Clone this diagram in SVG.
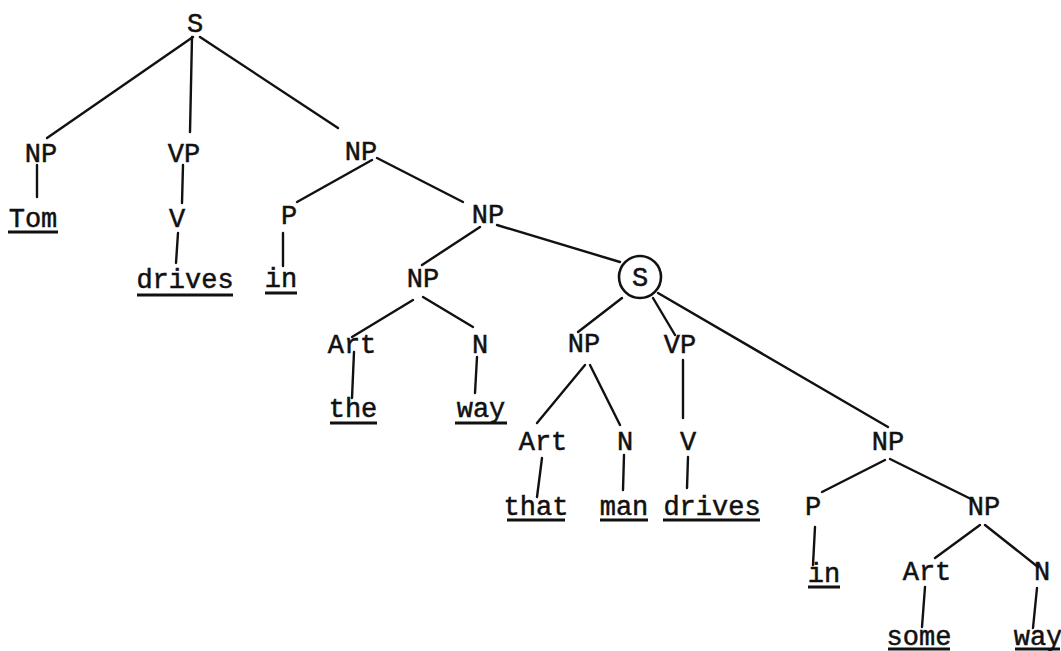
<svg xmlns="http://www.w3.org/2000/svg" width="1061" height="651" viewBox="0 0 1061 651">
<style>
text{font-family:"Liberation Mono","DejaVu Sans Mono",monospace;font-size:27px;fill:#111;stroke:#111;stroke-width:0.5;text-anchor:middle}
.e line{stroke:#111;stroke-width:2.4;stroke-linecap:round}
.u{stroke:#111;stroke-width:3}
</style>
<rect width="1061" height="651" fill="#fff"/>
<g class="e" id="connectors">
<line x1="193" y1="37" x2="47" y2="138"/>
<line x1="192" y1="37" x2="190" y2="132"/>
<line x1="200" y1="37" x2="338" y2="128"/>
<line x1="37" y1="165" x2="37" y2="197"/>
<line x1="183" y1="165" x2="182" y2="203"/>
<line x1="178" y1="233" x2="176" y2="263"/>
<line x1="372" y1="160" x2="297" y2="202"/>
<line x1="377" y1="158" x2="463" y2="202"/>
<line x1="283" y1="233" x2="283" y2="266"/>
<line x1="480" y1="227" x2="422" y2="265"/>
<line x1="497" y1="225" x2="620" y2="262"/>
<line x1="413" y1="300" x2="352" y2="337"/>
<line x1="423" y1="297" x2="473" y2="327"/>
<line x1="354" y1="352" x2="352" y2="398"/>
<line x1="477" y1="357" x2="475" y2="393"/>
<line x1="622" y1="298" x2="578" y2="332"/>
<line x1="653" y1="298" x2="675" y2="335"/>
<line x1="658" y1="293" x2="888" y2="427"/>
<line x1="585" y1="365" x2="537" y2="423"/>
<line x1="590" y1="365" x2="620" y2="425"/>
<line x1="683" y1="360" x2="683" y2="418"/>
<line x1="542" y1="458" x2="537" y2="497"/>
<line x1="624" y1="455" x2="623" y2="490"/>
<line x1="688" y1="457" x2="687" y2="488"/>
<line x1="885" y1="460" x2="822" y2="492"/>
<line x1="890" y1="459" x2="973" y2="500"/>
<line x1="815" y1="527" x2="813" y2="565"/>
<line x1="980" y1="525" x2="935" y2="558"/>
<line x1="985" y1="525" x2="1038" y2="567"/>
<line x1="925" y1="587" x2="922" y2="627"/>
<line x1="1037" y1="588" x2="1033" y2="628"/>
</g>
<g id="n-S"><text x="195" y="32">S</text></g>
<g id="n-NP1"><text x="41" y="162">NP</text></g>
<g id="n-VP1"><text x="184" y="162">VP</text></g>
<g id="n-NP2"><text x="361" y="160">NP</text></g>
<g id="n-Tom"><text x="33" y="227">Tom</text><line class="u" x1="8" y1="232" x2="58" y2="232"/></g>
<g id="n-V1"><text x="177" y="227">V</text></g>
<g id="n-P1"><text x="289" y="224">P</text></g>
<g id="n-drives1"><text x="185" y="288">drives</text><line class="u" x1="137" y1="295" x2="233" y2="295"/></g>
<g id="n-in1"><text x="281" y="287">in</text><line class="u" x1="265" y1="293" x2="297" y2="293"/></g>
<g id="n-NP3"><text x="488" y="223">NP</text></g>
<g id="n-NP4"><text x="423" y="287">NP</text></g>
<g id="n-S2"><circle cx="640" cy="277" r="21" fill="none" stroke="#111" stroke-width="2.6"/><text x="640" y="286">S</text></g>
<g id="n-Art1"><text x="352" y="353">Art</text></g>
<g id="n-N1"><text x="480" y="353">N</text></g>
<g id="n-NP5"><text x="584" y="352">NP</text></g>
<g id="n-VP2"><text x="680" y="353">VP</text></g>
<g id="n-the"><text x="353" y="417">the</text><line class="u" x1="330" y1="423" x2="377" y2="423"/></g>
<g id="n-way1"><text x="481" y="417">way</text><line class="u" x1="455" y1="423" x2="507" y2="423"/></g>
<g id="n-Art2"><text x="543" y="450">Art</text></g>
<g id="n-N2"><text x="625" y="450">N</text></g>
<g id="n-V2"><text x="688" y="450">V</text></g>
<g id="n-NP6"><text x="888" y="450">NP</text></g>
<g id="n-that"><text x="536" y="515">that</text><line class="u" x1="507" y1="520" x2="565" y2="520"/></g>
<g id="n-man"><text x="624" y="515">man</text><line class="u" x1="600" y1="520" x2="648" y2="520"/></g>
<g id="n-drives2"><text x="712" y="515">drives</text><line class="u" x1="663" y1="520" x2="760" y2="520"/></g>
<g id="n-P2"><text x="813" y="515">P</text></g>
<g id="n-NP7"><text x="984" y="515">NP</text></g>
<g id="n-in2"><text x="824" y="582">in</text><line class="u" x1="808" y1="587" x2="840" y2="587"/></g>
<g id="n-Art3"><text x="927" y="580">Art</text></g>
<g id="n-N3"><text x="1042" y="580">N</text></g>
<g id="n-some"><text x="919" y="645">some</text><line class="u" x1="888" y1="649" x2="950" y2="649"/></g>
<g id="n-way2"><text x="1038" y="645">way</text><line class="u" x1="1015" y1="649" x2="1060" y2="649"/></g>
</svg>
